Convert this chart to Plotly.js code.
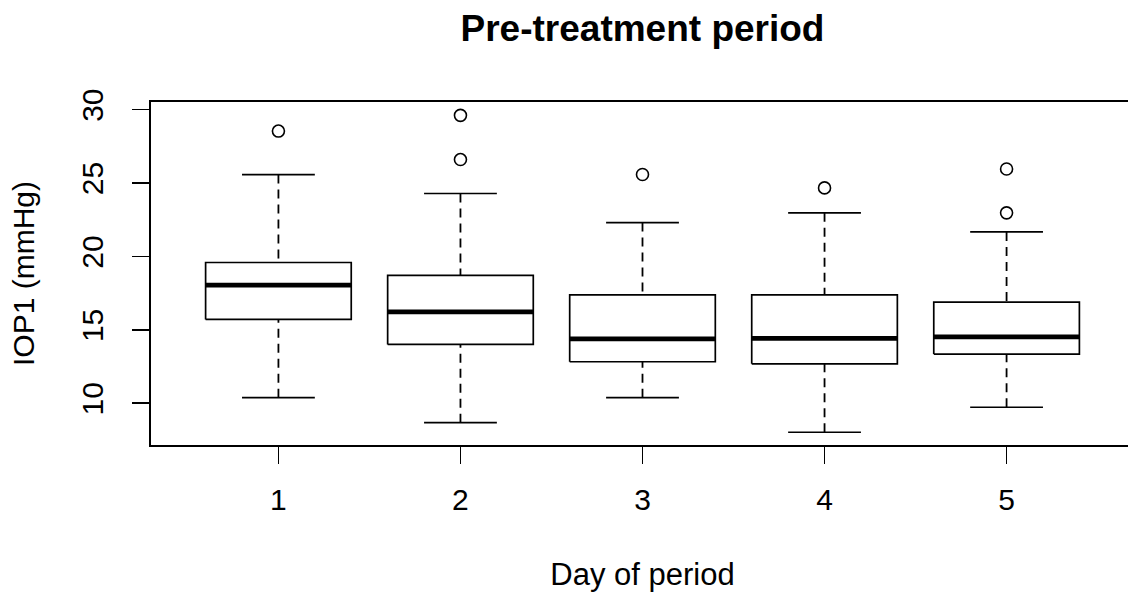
<!DOCTYPE html>
<html>
<head>
<meta charset="utf-8">
<script src="https://cdn.plot.ly/plotly-3.0.1.min.js"></script>
<style>
  html, body { margin: 0; padding: 0; overflow: hidden; background: #ffffff; }
  #chart { width: 1140px; height: 592px; }
</style>
</head>
<body>
<div id="chart"></div>
<script>
// ---- Data ----
const days = [1, 2, 3, 4, 5];
const dayLabels = ["1", "2", "3", "4", "5"];
const lowerWhisker = [10.38, 8.68, 10.38, 8.03, 9.73];
const q1 = [15.71, 14.01, 12.83, 12.69, 13.35];
const median = [18.05, 16.23, 14.39, 14.42, 14.53];
const q3 = [19.59, 18.71, 17.39, 17.39, 16.89];
const upperWhisker = [25.58, 24.29, 22.31, 22.97, 21.67];
const outlierDay = [1, 2, 2, 3, 4, 5, 5];
const outlierValue = [28.54, 29.61, 26.60, 25.58, 24.67, 25.96, 22.97];
const yTicks = [10, 15, 20, 25, 30];

// ---- Styling constants ----
const halfBox = 0.4;   // boxwex 0.8
const halfCap = 0.2;   // staple width
const ink = "#000000";
const fontFamily = "'Liberation Sans', Arial, Helvetica, sans-serif";

// ---- Build traces from the data ----
const boxX = [], boxY = [], medX = [], medY = [], whX = [], whY = [], capX = [], capY = [];
days.forEach((d, i) => {
  boxX.push(d - halfBox, d + halfBox, d + halfBox, d - halfBox, d - halfBox, null);
  boxY.push(q1[i], q1[i], q3[i], q3[i], q1[i], null);
  medX.push(d - halfBox, d + halfBox, null);
  medY.push(median[i], median[i], null);
  // whiskers drawn from the whisker end toward the box (as R does)
  whX.push(d, d, null, d, d, null);
  whY.push(lowerWhisker[i], q1[i], null, upperWhisker[i], q3[i], null);
  capX.push(d - halfCap, d + halfCap, null, d - halfCap, d + halfCap, null);
  capY.push(upperWhisker[i], upperWhisker[i], null, lowerWhisker[i], lowerWhisker[i], null);
});

const traces = [
  { type: "scatter", mode: "lines", x: whX, y: whY, hoverinfo: "skip",
    line: { color: ink, width: 1.8, dash: "9px,6px" }, showlegend: false },
  { type: "scatter", mode: "lines", x: capX, y: capY, hoverinfo: "skip",
    line: { color: ink, width: 1.7 }, showlegend: false },
  { type: "scatter", mode: "lines", x: boxX, y: boxY, hoverinfo: "skip",
    line: { color: ink, width: 1.7 }, showlegend: false },
  { type: "scatter", mode: "lines", x: medX, y: medY, hoverinfo: "skip",
    line: { color: ink, width: 4.8 }, showlegend: false },
  { type: "scatter", mode: "markers", x: outlierDay, y: outlierValue,
    marker: { symbol: "circle-open", size: 12, color: ink, line: { width: 1.6, color: ink } },
    showlegend: false }
];

const layout = {
  width: 1140,
  height: 592,
  margin: { l: 151, r: 6, t: 102, b: 147 },
  paper_bgcolor: "#ffffff",
  plot_bgcolor: "#ffffff",
  font: { family: fontFamily, color: ink },
  showlegend: false,
  title: {
    text: "Pre-treatment period",
    font: { family: fontFamily, size: 37, weight: "bold", color: ink },
    xref: "paper", x: 0.5, xanchor: "center",
    yref: "container", y: 1 - 28 / 592, yanchor: "middle"
  },
  xaxis: {
    range: [0.3, 5.7],
    tickmode: "array",
    tickvals: days,
    ticktext: dayLabels,
    ticks: "outside", ticklen: 17, tickwidth: 1.7, tickcolor: ink,
    ticklabelstandoff: 10,
    showline: true, mirror: true, linecolor: ink, linewidth: 1.7,
    showgrid: false, zeroline: false,
    tickfont: { family: fontFamily, size: 30, color: ink },
    title: { text: "Day of period", font: { family: fontFamily, size: 31, color: ink }, standoff: 50 }
  },
  yaxis: {
    range: [7.16, 30.52],
    tickmode: "array",
    tickvals: yTicks,
    ticktext: yTicks.map(String),
    tickangle: -90,
    ticks: "outside", ticklen: 17, tickwidth: 1.7, tickcolor: ink,
    ticklabelstandoff: 17,
    showline: true, mirror: true, linecolor: ink, linewidth: 1.7,
    showgrid: false, zeroline: false,
    tickfont: { family: fontFamily, size: 30, color: ink },
    title: { text: "IOP1 (mmHg)", font: { family: fontFamily, size: 30, color: ink }, standoff: 33 }
  }
};

Plotly.newPlot("chart", traces, layout, { displayModeBar: false, staticPlot: true });
</script>
</body>
</html>
